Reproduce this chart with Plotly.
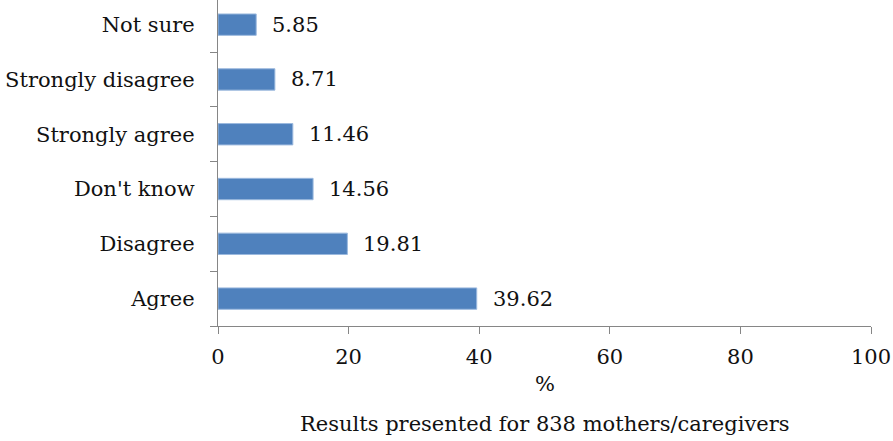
import plotly.graph_objects as go

# Survey responses (percent of respondents)
categories = ["Agree", "Disagree", "Don't know", "Strongly agree", "Strongly disagree", "Not sure"]
percent = [39.62, 19.81, 14.56, 11.46, 8.71, 5.85]
x_ticks = [0, 20, 40, 60, 80, 100]

FONT = "DejaVu Serif"
SIZE = 21
TEXT = "#111111"
AXIS_GREY = "#868686"

fig = go.Figure(
    go.Bar(
        x=percent,
        y=categories,
        orientation="h",
        marker=dict(color="#4F81BD", line=dict(color="#9bb9de", width=1)),
        width=0.39,
        hoverinfo="x+y",
    )
)

# value labels to the right of each bar
for cat, val in zip(categories, percent):
    fig.add_annotation(
        x=val, y=cat, xref="x", yref="y",
        text=f"{val:.2f}", showarrow=False,
        xanchor="left", yanchor="middle", xshift=14,
        font=dict(family=FONT, size=SIZE, color=TEXT),
    )

# two-line x-axis caption
fig.add_annotation(
    x=0.5, y=-0.135, xref="paper", yref="paper", yanchor="top",
    text="%", showarrow=False,
    font=dict(family=FONT, size=SIZE, color=TEXT),
)
fig.add_annotation(
    x=0.5, y=-0.258, xref="paper", yref="paper", yanchor="top",
    text="Results presented for 838 mothers/caregivers", showarrow=False,
    font=dict(family=FONT, size=SIZE, color=TEXT),
)

fig.update_layout(
    width=893, height=441,
    margin=dict(l=218, r=22, t=0, b=115),
    paper_bgcolor="white", plot_bgcolor="white",
    showlegend=False,
    font=dict(family=FONT, size=SIZE, color=TEXT),
    xaxis=dict(
        range=[0, 100], tickvals=x_ticks, ticktext=[str(v) for v in x_ticks],
        showgrid=False, zeroline=False,
        showline=True, linecolor=AXIS_GREY, linewidth=1.3,
        ticks="outside", ticklen=7, tickcolor=AXIS_GREY, tickwidth=1.3,
        ticklabelstandoff=5,
        tickfont=dict(family=FONT, size=SIZE, color=TEXT),
        fixedrange=True,
    ),
    yaxis=dict(
        categoryorder="array", categoryarray=categories,
        range=[-0.5, 5.45],
        showgrid=False, zeroline=False,
        showline=True, linecolor=AXIS_GREY, linewidth=1.3,
        ticks="outside", ticklen=7, tickcolor=AXIS_GREY, tickwidth=1.3,
        tickson="boundaries", ticklabelstandoff=18,
        tickfont=dict(family=FONT, size=SIZE, color=TEXT),
        fixedrange=True,
    ),
)

fig.write_html("out.html")
